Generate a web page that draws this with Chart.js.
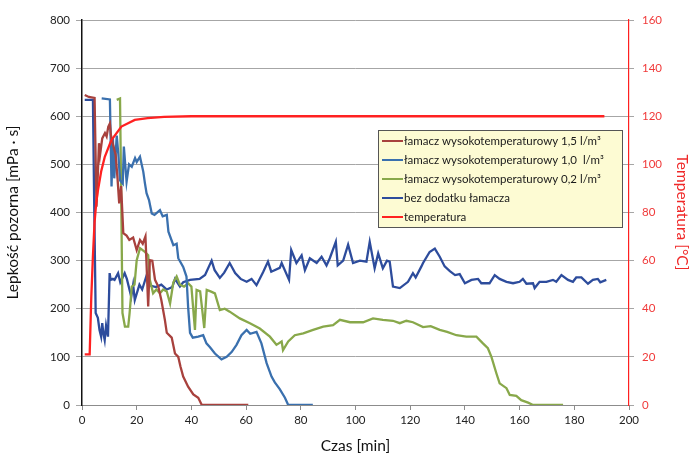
<!DOCTYPE html>
<html>
<head>
<meta charset="utf-8">
<script src="https://cdn.jsdelivr.net/npm/chart.js@4.4.0/dist/chart.umd.min.js"></script>
<style>
  html, body { margin: 0; padding: 0; background: #fff; }
  #wrap { width: 693px; height: 459px; position: relative; }
</style>
</head>
<body>
<div id="wrap"><canvas id="chart"></canvas></div>
<script>
// time [min] and viscosity [mPa s] per series
const t15 = [1, 2.5, 4.6, 5.3, 5.8, 6.2, 6.6, 7.4, 8.4, 9, 9.6, 10.2, 10.6, 11.4, 12.3, 13, 13.6, 14.3, 15.1, 16.3, 17.3, 18.7, 20, 21.2, 22.2, 23.2, 24.2, 24.8, 25.7, 26.7, 27.9, 29, 30.3, 31, 32.8, 34, 35.2, 36, 37, 38.8, 40.7, 42.5, 43.8, 60.8];
const v15 = [644, 640, 638, 412, 481, 544, 520, 554, 565, 558, 578, 585, 560, 540, 520, 470, 419, 455, 357, 352, 343, 348, 322, 343, 335, 350, 205, 301, 300, 260, 246, 218, 177, 150, 140, 107, 100, 80, 59, 38, 22, 15, 0, 0];

const t10 = [7.2, 10.2, 10.8, 11.3, 11.8, 12.7, 13.3, 13.9, 14.9, 15.3, 16.3, 17.2, 18.2, 19.4, 20, 21.2, 22.4, 23, 23.6, 24.5, 25.5, 26.5, 28.5, 29.5, 31, 31.6, 33.4, 34.6, 35.2, 37, 38.2, 38.8, 39.5, 40.5, 42.5, 44.3, 45.5, 46.8, 48.6, 51, 52.9, 54.7, 56.5, 58.3, 60.2, 61.5, 63.8, 65.6, 67.5, 69.3, 70.5, 72.3, 74.2, 75.4, 84.4];
const v10 = [637, 635, 454, 554, 471, 560, 520, 467, 460, 537, 464, 500, 495, 513, 505, 516, 485, 461, 440, 426, 398, 395, 405, 392, 395, 360, 332, 335, 305, 287, 267, 204, 150, 140, 142, 145, 128, 120, 107, 95, 100, 110, 125, 145, 156, 148, 152, 128, 87, 59, 47, 33, 15, 0, 0];

const t02 = [12.7, 13.9, 14.3, 14.8, 15.7, 16.9, 17.4, 18.2, 19.2, 20, 21.2, 23, 24.2, 24.8, 26, 27.2, 28.5, 29.7, 31, 32.2, 33.4, 34.6, 35.8, 37.3, 38.8, 40, 41.3, 41.9, 43.2, 44.7, 45.6, 47, 48.6, 50.4, 52.2, 54, 57.7, 61.4, 65, 68.7, 71.1, 73, 73.5, 75.4, 77.8, 80.9, 84.5, 88.2, 91.8, 94.3, 98, 102.8, 106.4, 110, 113.7, 116.2, 118.6, 121, 124.7, 127.5, 130.8, 133.5, 136.9, 140.5, 144.2, 146.6, 148.4, 149.7, 151.5, 152.7, 155.2, 156.4, 158.8, 160.6, 163.1, 164.9, 175.9];
const v02 = [634, 637, 450, 191, 163, 163, 191, 246, 250, 301, 326, 318, 311, 260, 232, 240, 232, 240, 236, 211, 255, 267, 250, 246, 253, 246, 156, 239, 236, 160, 239, 236, 232, 197, 200, 194, 180, 170, 159, 142, 125, 132, 114, 132, 145, 149, 156, 163, 166, 177, 172, 172, 180, 177, 175, 170, 175, 172, 162, 164, 156, 152, 145, 142, 142, 128, 118, 100, 66, 45, 35, 21, 19, 10, 5, 0, 0];

const tBez = [1, 4, 4.5, 5, 5.8, 6.4, 7, 7.4, 7.8, 8.3, 8.8, 9.5, 10.1, 10.5, 11.3, 11.9, 13.2, 14, 15.6, 16.4, 18, 18.7, 19.3, 21, 22, 23.5, 25, 27, 29, 31, 33, 34, 35.8, 37, 39.5, 43, 45, 47.4, 48.5, 50.4, 52, 54, 56, 58, 60.2, 62, 63.8, 66.2, 68, 69.2, 72.3, 73, 75.7, 76.5, 78.4, 80.3, 81.5, 83.3, 85.8, 87.6, 89.4, 90.6, 92.8, 93.5, 95.5, 97.3, 99.1, 101.6, 104, 105.2, 107, 108.3, 110, 111.5, 112.5, 113.7, 116.2, 119.2, 121, 122, 124.1, 124.7, 127.1, 129, 130.8, 132.6, 134.5, 136.4, 138.1, 140, 142.4, 144.8, 146, 149, 150.9, 152.7, 155.2, 157.6, 160, 161.2, 162.5, 164.9, 165.5, 167.3, 169.8, 172.2, 173.4, 175.3, 177.7, 179.5, 180.7, 182.6, 185, 186.8, 188.6, 189.5, 191.7];
const vBez = [634, 634, 400, 191, 181, 156, 142, 170, 150, 135, 165, 142, 274, 260, 262, 260, 274, 255, 274, 262, 225, 250, 218, 250, 240, 267, 248, 245, 250, 240, 245, 262, 246, 255, 260, 262, 270, 300, 280, 264, 275, 295, 274, 262, 256, 262, 249, 276, 298, 277, 285, 295, 260, 322, 295, 311, 280, 305, 295, 308, 290, 305, 339, 290, 300, 333, 295, 300, 298, 339, 284, 315, 284, 300, 298, 246, 243, 256, 274, 265, 288, 295, 318, 325, 308, 288, 278, 270, 272, 253, 260, 262, 253, 253, 270, 262, 256, 253, 256, 262, 252, 253, 243, 256, 256, 260, 256, 270, 260, 256, 265, 265, 252, 260, 262, 255, 260];

// temperature [°C]
const tTemp = [1, 2.8, 3.4, 4, 4.6, 5.2, 5.8, 7, 8.3, 10.7, 14.4, 19.3, 24, 30, 40, 60, 100, 150, 191];
const vTemp = [21, 21, 45, 62, 76, 84, 89, 97, 103, 110, 115.7, 118.5, 119.2, 119.7, 120, 120, 120, 120, 120];

const xTicks = [0, 20, 40, 60, 80, 100, 120, 140, 160, 180, 200];

const legendLabels = [
  'łamacz wysokotemperaturowy 1,5 l/m³',
  'łamacz wysokotemperaturowy 1,0  l/m³',
  'łamacz wysokotemperaturowy 0,2 l/m³',
  'bez dodatku łamacza',
  'temperatura'
];

function pts(xs, ys) {
  return xs.map((x, i) => ({ x: x, y: ys[i] }));
}

const FONT = 'Lato, "Open Sans", sans-serif';

const colors = {
  c15: '#A8413D',
  c10: '#3A70AE',
  c02: '#88A84A',
  bez: '#2D4C9C',
  temp: '#FF2121'
};

const boxLegend = {
  id: 'boxLegend',
  afterDraw(chart) {
    const ctx = chart.ctx;
    const x = 378, y = 130, w = 244, h = 97;
    ctx.save();
    ctx.fillStyle = '#FDFBD3';
    ctx.fillRect(x, y, w, h);
    ctx.strokeStyle = '#555';
    ctx.lineWidth = 1;
    ctx.strokeRect(x + 0.5, y + 0.5, w, h);
    ctx.font = '11.5px ' + FONT;
    ctx.textBaseline = 'middle';
    const order = [1, 2, 3, 4, 0];
    order.forEach((di, i) => {
      const ds = chart.data.datasets[di];
      const cy = y + 11 + i * 19;
      ctx.strokeStyle = ds.borderColor;
      ctx.lineWidth = 2;
      ctx.beginPath();
      ctx.moveTo(x + 4, cy);
      ctx.lineTo(x + 25, cy);
      ctx.stroke();
      ctx.fillStyle = '#1a1a1a';
      ctx.fillText(legendLabels[i], x + 26, cy);
    });
    ctx.restore();
  }
};

new Chart(document.getElementById('chart'), {
  type: 'scatter',
  data: {
    datasets: [
      { label: legendLabels[4], data: pts(tTemp, vTemp), borderColor: colors.temp, yAxisID: 'y1' },
      { label: legendLabels[0], data: pts(t15, v15), borderColor: colors.c15, yAxisID: 'y' },
      { label: legendLabels[1], data: pts(t10, v10), borderColor: colors.c10, yAxisID: 'y' },
      { label: legendLabels[2], data: pts(t02, v02), borderColor: colors.c02, yAxisID: 'y' },
      { label: legendLabels[3], data: pts(tBez, vBez), borderColor: colors.bez, yAxisID: 'y' }
    ].map(ds => Object.assign(ds, {
      showLine: true,
      pointRadius: 0,
      borderWidth: 2.3,
      tension: 0,
      fill: false
    }))
  },
  options: {
    responsive: true,
    maintainAspectRatio: false,
    animation: false,
    layout: { padding: { top: 20, left: 0, right: 0, bottom: 0 } },
    plugins: {
      legend: { display: false },
      tooltip: { enabled: false }
    },
    scales: {
      x: {
        type: 'linear',
        min: 0,
        max: 200,
        afterBuildTicks: axis => { axis.ticks = xTicks.map(v => ({ value: v })); },
        afterFit: axis => { axis.height = 54; },
        grid: { drawOnChartArea: false, drawTicks: true, tickLength: 5, color: '#8c8c8c' },
        border: { color: '#8c8c8c', width: 1 },
        ticks: { color: '#222', font: { family: FONT, size: 11.5 }, padding: 3, maxRotation: 0 },
        title: { display: true, text: 'Czas [min]', color: '#111', font: { family: FONT, size: 15.5 }, padding: { top: 6 } }
      },
      y: {
        position: 'left',
        min: 0,
        max: 800,
        ticks: { stepSize: 100, color: '#222', font: { family: FONT, size: 11.5 }, padding: 6 },
        afterFit: axis => { axis.width = 82; },
        grid: { color: '#a6a6a6', lineWidth: 1, tickLength: 6 },
        border: { color: '#111', width: 1.5 },
        title: { display: true, text: 'Lepkość pozorna [mPa · s]', color: '#111', font: { family: FONT, size: 15.5 }, padding: { bottom: 4 } }
      },
      y1: {
        position: 'right',
        min: 0,
        max: 160,
        ticks: { stepSize: 20, color: '#F03A3A', font: { family: FONT, size: 11.5 }, padding: 8 },
        afterFit: axis => { axis.width = 64; },
        grid: { drawOnChartArea: false, color: '#a6a6a6', tickLength: 5 },
        border: { color: '#FF2020', width: 1.2 },
        title: { display: true, text: 'Temperatura [°C]', color: '#F02828', font: { family: FONT, size: 15.5 }, padding: { top: 2 } }
      }
    }
  },
  plugins: [boxLegend]
});
</script>
</body>
</html>
